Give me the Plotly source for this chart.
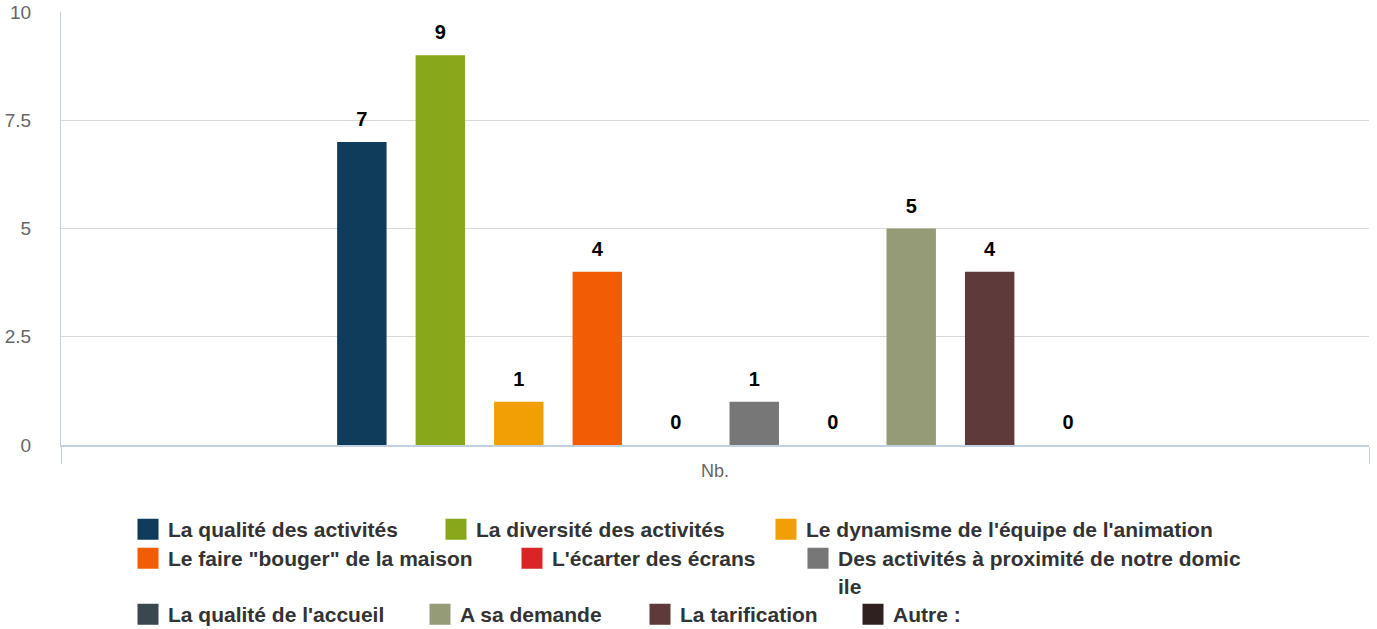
import plotly.graph_objects as go

# --- data -------------------------------------------------------------------
CATEGORY = ["Nb."]
SERIES = [
    "La qualité des activités",
    "La diversité des activités",
    "Le dynamisme de l'équipe de l'animation",
    'Le faire "bouger" de la maison',
    "L'écarter des écrans",
    "Des activités à proximité de notre domic<br>ile",
    "La qualité de l'accueil",
    "A sa demande",
    "La tarification",
    "Autre :",
]
VALUES = [7, 9, 1, 4, 0, 1, 0, 5, 4, 0]
Y_TICKS = [0, 2.5, 5, 7.5, 10]
Y_TICK_LABELS = ["0", "2.5", "5", "7.5", "10"]

# --- style ------------------------------------------------------------------
COLORS = ["#103C5B", "#88A71B", "#F29F05", "#F25C05", "#D92525",
          "#777777", "#3A474F", "#959B77", "#5E3A3A", "#302121"]
FONT = "Liberation Sans, Arial, sans-serif"
GRID = "#D8D8D8"
AXIS = "#C0D0E0"
MUTED = "#666666"
LEGEND_TEXT = "#333333"

W, H = 1377, 629
M_L, M_R, M_T, M_B = 61, 8, 12, 184

# legend is laid out item by item, like the wrapped legend of the original
LEGEND_TEXT_X = [168, 476, 806, 168, 552, 838, 168, 460, 680, 893]
LEGEND_ROW = [0, 0, 0, 1, 1, 1, 2, 2, 2, 2]
ROW_CENTER = [530, 559, 615]

fig = go.Figure()

for name, val, col in zip(SERIES, VALUES, COLORS):
    fig.add_trace(go.Bar(
        x=CATEGORY, y=[val], name=name, marker=dict(color=col, line=dict(width=0)),
        offsetgroup=name, showlegend=False, hoverinfo="y",
    ))

# value labels above bars (group-aligned scatter so zero bars get a label too)
for name, val in zip(SERIES, VALUES):
    fig.add_trace(go.Scatter(
        x=CATEGORY, y=[val], mode="markers+text", text=[str(val)],
        textposition="top center", offsetgroup=name, showlegend=False,
        marker=dict(size=16, color="rgba(0,0,0,0)"),
        textfont=dict(family=FONT, size=20, color="#000000", weight="bold"),
        hoverinfo="skip", cliponaxis=False,
    ))

# legend-only entries
for i, (name, col) in enumerate(zip(SERIES, COLORS)):
    leg = "legend" if i == 0 else f"legend{i + 1}"
    fig.add_trace(go.Scatter(
        x=[None], y=[None], mode="markers", name=name, legend=leg,
        xaxis="x2", yaxis="y2",
        marker=dict(symbol="square", size=16, color=col, line=dict(width=5, color=col)),
    ))

legends = {}
for i, (tx, row) in enumerate(zip(LEGEND_TEXT_X, LEGEND_ROW)):
    key = "legend" if i == 0 else f"legend{i + 1}"
    legends[key] = dict(
        xref="container", x=(tx - 40) / W, xanchor="left",
        yref="container", y=1 - (ROW_CENTER[row] - 21) / H, yanchor="top",
        orientation="h", itemsizing="trace", valign="top",
        bgcolor="rgba(0,0,0,0)", borderwidth=0,
        font=dict(family=FONT, size=21, color=LEGEND_TEXT, weight="bold"),
        itemclick=False, itemdoubleclick=False,
    )

fig.update_layout(
    width=W, height=H,
    margin=dict(l=M_L, r=M_R, t=M_T, b=M_B, autoexpand=False),
    paper_bgcolor="white", plot_bgcolor="white",
    font=dict(family=FONT, color=MUTED),
    barmode="group", bargap=0.4, bargroupgap=0.37,
    scattermode="group", scattergap=0.4,
    showlegend=True,
    xaxis=dict(
        type="category", range=[-0.5, 0.5], tickson="boundaries",
        ticks="outside", ticklen=17, tickcolor=AXIS, tickwidth=1,
        showline=True, linecolor=AXIS, linewidth=2, showgrid=False,
        ticklabelstandoff=8,
        tickfont=dict(family=FONT, size=18, color=MUTED), fixedrange=True,
    ),
    yaxis=dict(
        range=[0, 10], tickvals=Y_TICKS, ticktext=Y_TICK_LABELS,
        showgrid=True, gridcolor=GRID, gridwidth=1, zeroline=False,
        showline=True, linecolor=AXIS, linewidth=1, ticks="",
        ticklabelstandoff=25,
        tickfont=dict(family=FONT, size=19, color=MUTED), fixedrange=True,
    ),
    xaxis2=dict(visible=False, overlaying="x"),
    yaxis2=dict(visible=False, overlaying="y"),
    **legends,
)

fig.write_html("out.html", config={"displayModeBar": False},
               post_script="document.body.style.margin='0';")
